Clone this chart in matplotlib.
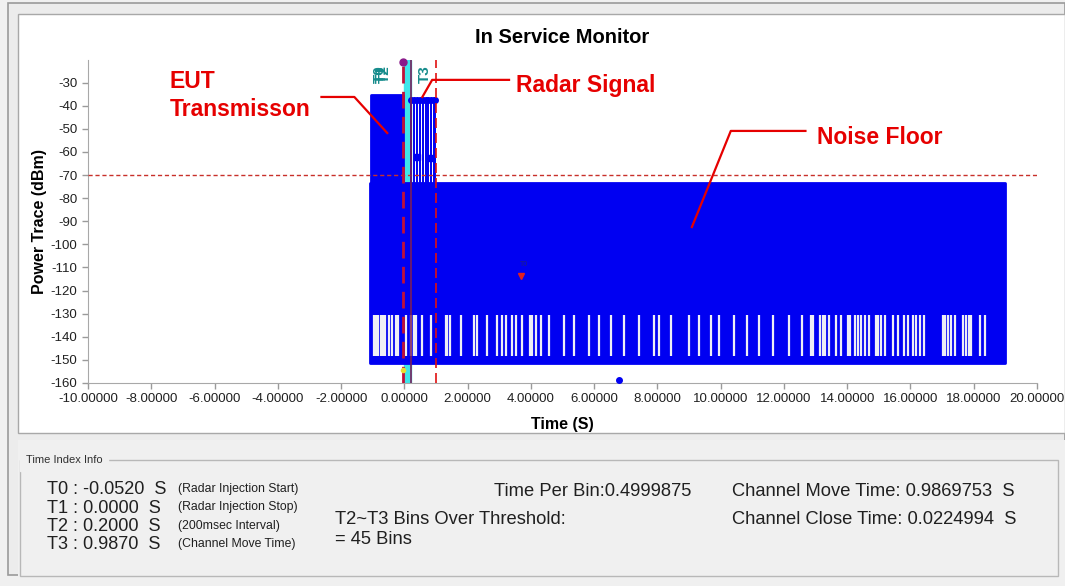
import matplotlib.pyplot as plt
from matplotlib.patches import Rectangle
from matplotlib.ticker import FormatStrFormatter

plt.rcParams['font.family'] = ['Liberation Sans', 'DejaVu Sans']
plt.rcParams['axes.unicode_minus'] = False

# markers (s)
t_marks = [-0.0520, 0.0000, 0.2000, 0.9870]
threshold = -70

# trace envelope (s, dBm)
eut_t = [-1.04, -0.05]
eut_top = [-35.5, -35.5]
eut_bottom = [-151.0, -151.0]

noise_t = [-1.10, 19.00]
noise_top = [-73.5, -73.5]
noise_solid_bottom = [-130.0, -130.0]
noise_bottom = [-151.5, -151.5]

radar_t = [0.22, 0.31, 0.40, 0.49, 0.58, 0.67, 0.76, 0.85, 0.94, 0.98]
radar_top = -37.5
radar_blobs_t = [0.41, 0.85]
radar_blobs_db = [-62.2, -62.6]

# white gaps in the -130..-150 band
gap_t = [-0.95, -0.88, -0.82, -0.73, -0.69, -0.60, -0.47, -0.38, -0.25, -0.19,
         0.06, 0.22, 0.32, 0.38, 0.57, 0.85, 1.32, 1.36, 1.45, 1.80, 2.21, 2.30,
         2.62, 2.93, 3.09, 3.22, 3.41, 3.53, 3.72, 3.97, 4.04, 4.16, 4.32, 4.57,
         5.05, 5.36, 5.84, 6.15, 6.53, 6.94, 7.41, 7.89, 8.04, 8.42, 8.99, 9.31,
         9.68, 9.94, 10.41, 10.82, 11.20, 11.67, 12.15, 12.56, 12.87, 12.93,
         13.15, 13.22, 13.31, 13.44, 13.66, 13.79, 14.01, 14.10, 14.26, 14.35,
         14.45, 14.57, 14.70, 14.92, 14.98, 15.08, 15.21, 15.46, 15.62, 15.80,
         15.93, 16.09, 16.18, 16.31, 16.44, 17.03, 17.10, 17.19, 17.29, 17.41,
         17.67, 17.76, 17.85, 17.92, 18.20, 18.36]

lone_t = [6.80]
lone_db = [-158.5]

x_ticks = [-10, -8, -6, -4, -2, 0, 2, 4, 6, 8, 10, 12, 14, 16, 18, 20]
y_ticks = [-160, -150, -140, -130, -120, -110, -100, -90, -80, -70, -60, -50, -40, -30]

info_left = ["T0 : -0.0520  S", "T1 : 0.0000  S", "T2 : 0.2000  S", "T3 : 0.9870  S"]
info_notes = ["(Radar Injection Start)", "(Radar Injection Stop)",
              "(200msec Interval)", "(Channel Move Time)"]

W, H = 1065, 586
fig = plt.figure(figsize=(W / 100, H / 100), dpi=100, facecolor='#f0f0f0')


def fx(px):
    return px / W


def fy(py):
    return 1 - py / H


# window frame (behind the axes)
fig.add_artist(Rectangle((fx(8), fy(575)), fx(1057), fy(3) - fy(575), transform=fig.transFigure,
                         facecolor='#ececec', edgecolor='#9a9a9a', lw=1.2, zorder=-10))
fig.add_artist(Rectangle((fx(18), fy(433)), fx(1047), fy(14) - fy(433), transform=fig.transFigure,
                         facecolor='white', edgecolor='#a8a8a8', lw=1, zorder=-9))
fig.add_artist(Rectangle((fx(18), fy(586)), fx(1047), fy(440) - fy(586), transform=fig.transFigure,
                         facecolor='#f0f0f0', edgecolor='none', zorder=-9))
fig.add_artist(Rectangle((fx(20), fy(576)), fx(1038), fy(460) - fy(576), transform=fig.transFigure,
                         facecolor='none', edgecolor='#b8b8b8', lw=1, zorder=-8))
fig.text(fx(26), fy(460), "Time Index Info", fontsize=8, color='#303030', va='center',
         backgroundcolor='#f0f0f0')

ax = fig.add_axes([fx(88), fy(383), fx(1037) - fx(88), fy(60) - fy(383)])
ax.set_facecolor('white')
ax.set_xlim(-10, 20)
ax.set_ylim(-160, -20.2)

blue = '#0000f2'

# cyan band between T1 and T2
ax.axvspan(t_marks[1], t_marks[2], color='#3fe6ea', zorder=1)

ax.fill_between(noise_t, noise_bottom, noise_top, color=blue, lw=2, edgecolor=blue, zorder=2)
ax.fill_between(eut_t, eut_bottom, eut_top, color=blue, lw=2, edgecolor=blue, zorder=2)
ax.vlines(radar_t, noise_top[0], radar_top, color=blue, lw=1.4, zorder=2)
ax.plot(radar_t, [radar_top] * len(radar_t), 'o', color=blue, ms=4, zorder=3)
ax.plot(radar_blobs_t, radar_blobs_db, 's', color=blue, ms=5, zorder=3)
ax.vlines(gap_t, -148.5, noise_solid_bottom[0] - 0.5, color='#eeeef6', lw=1.6, zorder=3)
ax.plot(lone_t, lone_db, 'o', color=blue, ms=4, zorder=3)

# marker lines
ax.axhline(threshold, color='#c8302a', ls=(0, (3, 2)), lw=1, zorder=4)
ax.axvline(t_marks[0], color='#c01038', ls=(0, (6, 3)), lw=2, zorder=4)
ax.axvline(t_marks[2], color='#7a1e5a', lw=1.2, zorder=4)
ax.axvline(t_marks[3], color='#e01010', ls=(0, (6, 3)), lw=1.2, zorder=4)
ax.plot([t_marks[0]], [-21], 'o', color='#8a1a8a', ms=5, zorder=5, clip_on=False)
ax.plot([t_marks[0]], [-154.5], 'o', color='#e8e030', ms=3, zorder=5)

for lbl, dx in [("T0", -0.78), ("T1", -0.70), ("T2", -0.62)]:
    ax.text(dx, -26.5, lbl, rotation=90, ha='center', va='center', fontsize=11,
            fontweight='bold', color='#168c8c', zorder=6)
ax.text(0.66, -26.5, "T3", rotation=90, ha='center', va='center', fontsize=11,
        fontweight='bold', color='#168c8c', zorder=6)

ax.text(3.78, -108.5, "T0", fontsize=5, color='#202080', ha='center', va='center', zorder=6)
ax.plot([3.70], [-113.5], 'v', color='#e02020', ms=4, zorder=6)

# callouts
red = '#e60000'
ax.plot([-2.62, -1.58, -0.54], [-36.2, -36.2, -51.8], color=red, lw=1.6, zorder=7)
ax.plot([3.31, 0.88, 0.57], [-28.8, -28.8, -36.2], color=red, lw=1.6, zorder=7)
ax.plot([12.68, 10.32, 9.09], [-50.9, -50.9, -92.5], color=red, lw=1.6, zorder=7)
ax.text(-7.41, -29.7, "EUT", color=red, fontsize=16.5, fontweight='bold', va='center', zorder=7)
ax.text(-7.41, -41.6, "Transmisson", color=red, fontsize=16.5, fontweight='bold', va='center', zorder=7)
ax.text(3.53, -31.4, "Radar Signal", color=red, fontsize=16.5, fontweight='bold', va='center', zorder=7)
ax.text(13.03, -53.9, "Noise Floor", color=red, fontsize=16.5, fontweight='bold', va='center', zorder=7)

ax.set_xticks(x_ticks)
ax.set_yticks(y_ticks)
ax.xaxis.set_major_formatter(FormatStrFormatter('%.5f'))
ax.tick_params(labelsize=9.5, colors='#9a9a9a', labelcolor='#202020', length=4, width=1)
for s in ['top', 'right']:
    ax.spines[s].set_visible(False)
for s in ['left', 'bottom']:
    ax.spines[s].set_color('#a8a8a8')

ax.set_title("In Service Monitor", fontsize=14.5, fontweight='bold', pad=12)
ax.set_xlabel("Time (S)", fontsize=11.5, fontweight='bold', labelpad=8)
ax.set_ylabel("Power Trace (dBm)", fontsize=11.5, fontweight='bold', labelpad=3)

# info panel
for i, (a, b) in enumerate(zip(info_left, info_notes)):
    y = 490 + i * 18.3
    fig.text(fx(47), fy(y), a, fontsize=13.1, color='#202020', va='center')
    fig.text(fx(178), fy(y - 1), b, fontsize=8.8, color='#202020', va='center')
fig.text(fx(494), fy(491), "Time Per Bin:0.4999875", fontsize=13.2, color='#202020', va='center')
fig.text(fx(335), fy(520), "T2~T3 Bins Over Threshold:", fontsize=13.2, color='#202020', va='center')
fig.text(fx(335), fy(540), "= 45 Bins", fontsize=13.2, color='#202020', va='center')
fig.text(fx(732), fy(491), "Channel Move Time: 0.9869753  S", fontsize=13.2, color='#202020', va='center')
fig.text(fx(732), fy(520), "Channel Close Time: 0.0224994  S", fontsize=13.2, color='#202020', va='center')

fig.savefig('out.png', dpi=100, facecolor=fig.get_facecolor())
